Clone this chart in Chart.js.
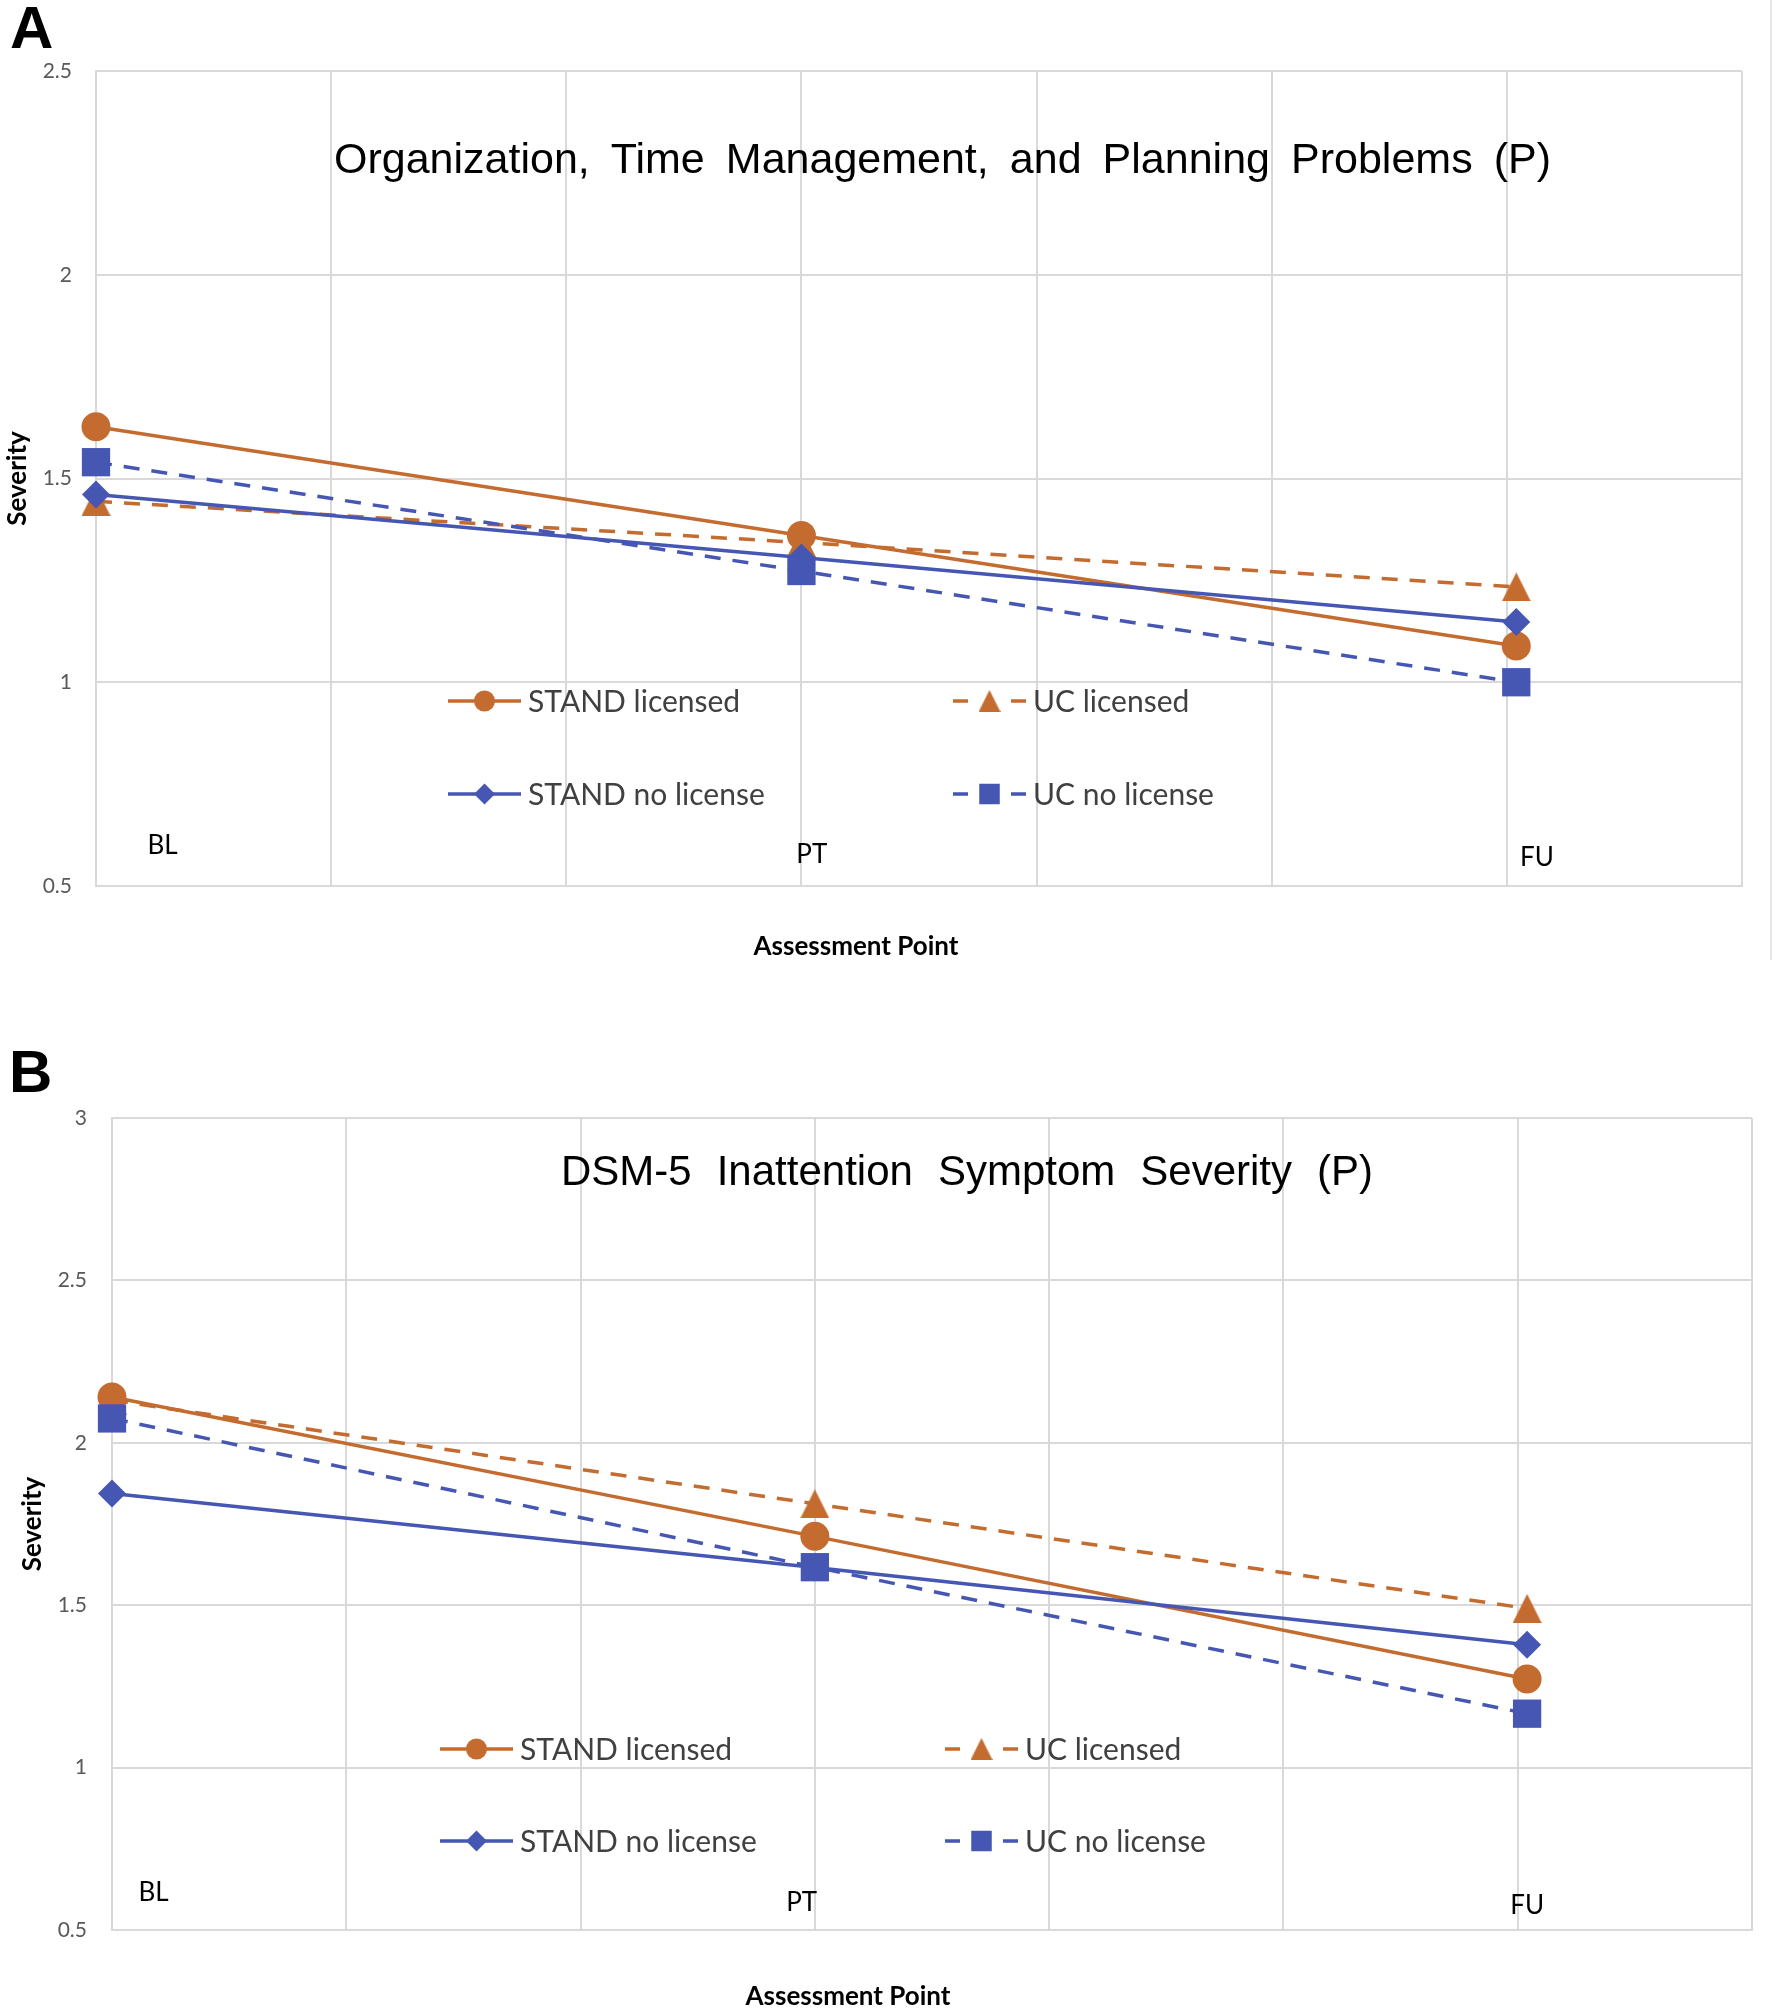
<!DOCTYPE html>
<html>
<head>
<meta charset="utf-8">
<script src="https://cdn.jsdelivr.net/npm/chart.js@4.4.1/dist/chart.umd.min.js"></script>
<style>
  html, body { margin: 0; padding: 0; background: #fff; }
  body { width: 1779px; height: 2010px; position: relative; overflow: hidden; }
  .panel { position: absolute; left: 0; }
  #panelA { top: 0; }
  #panelB { top: 1000px; }
</style>
</head>
<body>
<div class="panel" id="panelA"><canvas id="chartA" width="1779" height="990"></canvas></div>
<div class="panel" id="panelB"><canvas id="chartB" width="1779" height="1010"></canvas></div>
<script>
// Assessment points and group names
const categories = ['BL', 'PT', 'FU'];
const categoryX = [0, 3, 6.04];   // where each assessment sits on the 0..7 grid
const seriesNames = ['STAND licensed', 'UC licensed', 'STAND no license', 'UC no license'];

// Panel A - Organization, Time Management, and Planning Problems (P)
const orgStandLicensed = [1.627, 1.360, 1.089];
const orgUcLicensed = [1.444, 1.343, 1.234];
const orgStandNoLicense = [1.461, 1.306, 1.148];
const orgUcNoLicense = [1.540, 1.273, 1.000];

// Panel B - DSM-5 Inattention Symptom Severity (P)
const dsmStandLicensed = [2.141, 1.712, 1.273];
const dsmUcLicensed = [2.131, 1.812, 1.490];
const dsmStandNoLicense = [1.844, 1.616, 1.378];
const dsmUcNoLicense = [2.075, 1.617, 1.166];

// y axis tick values
const yTicksA = [0.5, 1, 1.5, 2, 2.5];
const yTicksB = [0.5, 1, 1.5, 2, 2.5, 3];

const ORANGE = '#C46B2F';
const BLUE = '#4556B3';
const GRID = '#D9D9D9';

// Excel style triangle marker (isosceles, centred on its box)
function triangleImage(w, h, color) {
    const c = document.createElement('canvas');
    c.width = w;
    c.height = h;
    const g = c.getContext('2d');
    g.fillStyle = color;
    g.beginPath();
    g.moveTo(w / 2, 0);
    g.lineTo(w, h);
    g.lineTo(0, h);
    g.closePath();
    g.fill();
    return c;
}

// one entry per series, same order as seriesNames
const seriesStyle = [
    { color: ORANGE, dash: [], point: 'circle', radius: 14.5, legendPoint: 'circle', legendRadius: 10.5, order: 2 },
    { color: ORANGE, dash: [16, 12], point: triangleImage(29, 29, ORANGE), radius: 14, legendPoint: triangleImage(22, 22, ORANGE), legendRadius: 11, order: 3 },
    { color: BLUE, dash: [], point: 'rectRot', radius: 14, legendPoint: 'rectRot', legendRadius: 10.5, order: 1 },
    { color: BLUE, dash: [16, 12], point: 'rect', radius: 20, legendPoint: 'rect', legendRadius: 14.5, order: 0 }
];

function buildDatasets(seriesValues) {
    return seriesValues.map((values, s) => {
        const st = seriesStyle[s];
        return {
            label: seriesNames[s],
            data: values.map((v, i) => ({ x: categoryX[i], y: v })),
            borderColor: st.color,
            backgroundColor: st.color,
            borderWidth: 3.5,
            borderDash: st.dash,
            pointStyle: st.point,
            pointRadius: st.radius,
            pointBackgroundColor: st.color,
            pointBorderColor: st.color,
            pointBorderWidth: 0,
            tension: 0,
            clip: false,
            order: st.order
        };
    });
}

// legend drawn inside the plot area, two columns
const insideLegend = {
    id: 'insideLegend',
    afterDatasetsDraw(chart, args, opts) {
        const { ctx, chartArea } = chart;
        ctx.save();
        chart.data.datasets.forEach((ds, i) => {
            const st = seriesStyle[i];
            const x0 = chartArea.left + opts.columns[i % 2];
            const y = chartArea.top + opts.rows[Math.floor(i / 2)];
            const x1 = x0 + opts.sampleWidth;
            ctx.strokeStyle = st.color;
            ctx.lineWidth = 3.5;
            ctx.setLineDash([]);
            ctx.beginPath();
            if (st.dash.length) {
                ctx.moveTo(x0, y);
                ctx.lineTo(x0 + 15, y);
                ctx.moveTo(x1 - 15, y);
                ctx.lineTo(x1, y);
            } else {
                ctx.moveTo(x0, y);
                ctx.lineTo(x1, y);
            }
            ctx.stroke();
            ctx.fillStyle = st.color;
            Chart.helpers.drawPoint(ctx, {
                pointStyle: st.legendPoint, radius: st.legendRadius, rotation: 0, borderWidth: 0
            }, (x0 + x1) / 2, y);
            ctx.fillStyle = '#404040';
            ctx.font = '30px Lato';
            ctx.textAlign = 'left';
            ctx.textBaseline = 'alphabetic';
            ctx.fillText(ds.label, x1 + 7, y + 11);
        });
        ctx.restore();
    }
};

// panel letter, chart title, x axis title and the BL/PT/FU labels
const panelText = {
    id: 'panelText',
    afterDraw(chart, args, opts) {
        const { ctx, scales } = chart;
        ctx.save();

        if (opts.edge) {
            ctx.strokeStyle = '#E6E6E6';
            ctx.lineWidth = 2;
            ctx.beginPath();
            ctx.moveTo(opts.edge.x, 0);
            ctx.lineTo(opts.edge.x, opts.edge.bottom);
            ctx.stroke();
        }

        ctx.fillStyle = '#000';
        ctx.textBaseline = 'alphabetic';

        ctx.font = 'bold 60px "Liberation Sans", Arial';
        ctx.textAlign = 'left';
        ctx.fillText(opts.letter.text, opts.letter.x, opts.letter.y);

        // title words spread over the measured width
        ctx.font = opts.title.font;
        const words = opts.title.text.split(' ');
        const widths = words.map(w => ctx.measureText(w).width);
        const total = widths.reduce((a, b) => a + b, 0);
        const gap = (opts.title.right - opts.title.left - total) / (words.length - 1);
        let x = opts.title.left;
        words.forEach((w, i) => {
            ctx.fillText(w, x, opts.title.y);
            x += widths[i] + gap;
        });

        ctx.font = 'bold 26px Lato';
        ctx.textAlign = 'center';
        ctx.fillText('Assessment Point', opts.xTitle.x, opts.xTitle.y);

        ctx.font = '26px Lato';
        ctx.textBaseline = 'middle';
        opts.pointLabels.forEach((p, i) => {
            ctx.fillText(categories[i], scales.x.getPixelForValue(p.x), scales.y.getPixelForValue(p.y));
        });
        ctx.restore();
    }
};

function makeChart(canvasId, datasets, yMin, yMax, yTicks, layout, extra) {
    return new Chart(document.getElementById(canvasId), {
        type: 'line',
        data: { datasets: datasets },
        options: {
            responsive: false,
            animation: false,
            events: [],
            layout: { padding: layout.padding },
            scales: {
                x: {
                    type: 'linear',
                    min: 0,
                    max: 7,
                    ticks: { display: false, stepSize: 1 },
                    grid: { color: GRID, lineWidth: 2, drawTicks: false },
                    border: { color: GRID, width: 2 },
                    afterFit: function (scale) {
                        scale.height = 0;
                    }
                },
                y: {
                    min: yMin,
                    max: yMax,
                    afterBuildTicks: function (scale) {
                        scale.ticks = yTicks.map(v => ({ value: v }));
                    },
                    ticks: {
                        color: '#595959',
                        font: { family: 'Lato', size: 21 },
                        padding: layout.tickPad,
                        callback: function (value) {
                            return String(value);
                        }
                    },
                    grid: { color: GRID, lineWidth: 2, drawTicks: false },
                    border: { color: GRID, width: 2 },
                    title: {
                        display: true,
                        text: 'Severity',
                        color: '#000',
                        font: { family: 'Lato', size: 26, weight: 'bold' },
                        padding: { top: layout.titlePad, bottom: 0 }
                    },
                    afterFit: function (scale) {
                        scale.width = layout.yWidth;
                    }
                }
            },
            plugins: {
                legend: { display: false },
                tooltip: { enabled: false },
                insideLegend: extra.legend,
                panelText: extra.text
            }
        },
        plugins: [insideLegend, panelText]
    });
}

function drawAll() {
    makeChart('chartA',
        buildDatasets([orgStandLicensed, orgUcLicensed, orgStandNoLicense, orgUcNoLicense]),
        0.5, 2.5, yTicksA,
        { padding: { left: 0, top: 71, right: 37, bottom: 104 }, yWidth: 96, tickPad: 24, titlePad: 2 },
        {
            legend: { columns: [352, 857], rows: [630, 723], sampleWidth: 73 },
            text: {
                edge: { x: 1771, bottom: 960 },
                letter: { text: 'A', x: 10, y: 48 },
                title: {
                    text: 'Organization, Time Management, and Planning Problems (P)',
                    font: '43px "Liberation Sans", Arial', left: 334, right: 1551, y: 173
                },
                xTitle: { x: 856, y: 955 },
                pointLabels: [{ x: 0.283, y: 0.599 }, { x: 3.044, y: 0.577 }, { x: 6.128, y: 0.570 }]
            }
        });

    makeChart('chartB',
        buildDatasets([dsmStandLicensed, dsmUcLicensed, dsmStandNoLicense, dsmUcNoLicense]),
        0.5, 3, yTicksB,
        { padding: { left: 0, top: 118, right: 27, bottom: 80 }, yWidth: 112, tickPad: 25, titlePad: 17 },
        {
            legend: { columns: [328, 833], rows: [631, 723], sampleWidth: 73 },
            text: {
                letter: { text: 'B', x: 9, y: 92 },
                title: {
                    text: 'DSM-5 Inattention Symptom Severity (P)',
                    font: '42px "Liberation Sans", Arial', left: 561, right: 1373, y: 185
                },
                xTitle: { x: 848, y: 1005 },
                pointLabels: [{ x: 0.177, y: 0.615 }, { x: 2.944, y: 0.584 }, { x: 6.04, y: 0.575 }]
            }
        });
}

Promise.all([
    document.fonts.load('30px Lato'),
    document.fonts.load('bold 26px Lato'),
    document.fonts.load('43px "Liberation Sans"'),
    document.fonts.load('bold 60px "Liberation Sans"')
]).then(drawAll, drawAll);
</script>
</body>
</html>
